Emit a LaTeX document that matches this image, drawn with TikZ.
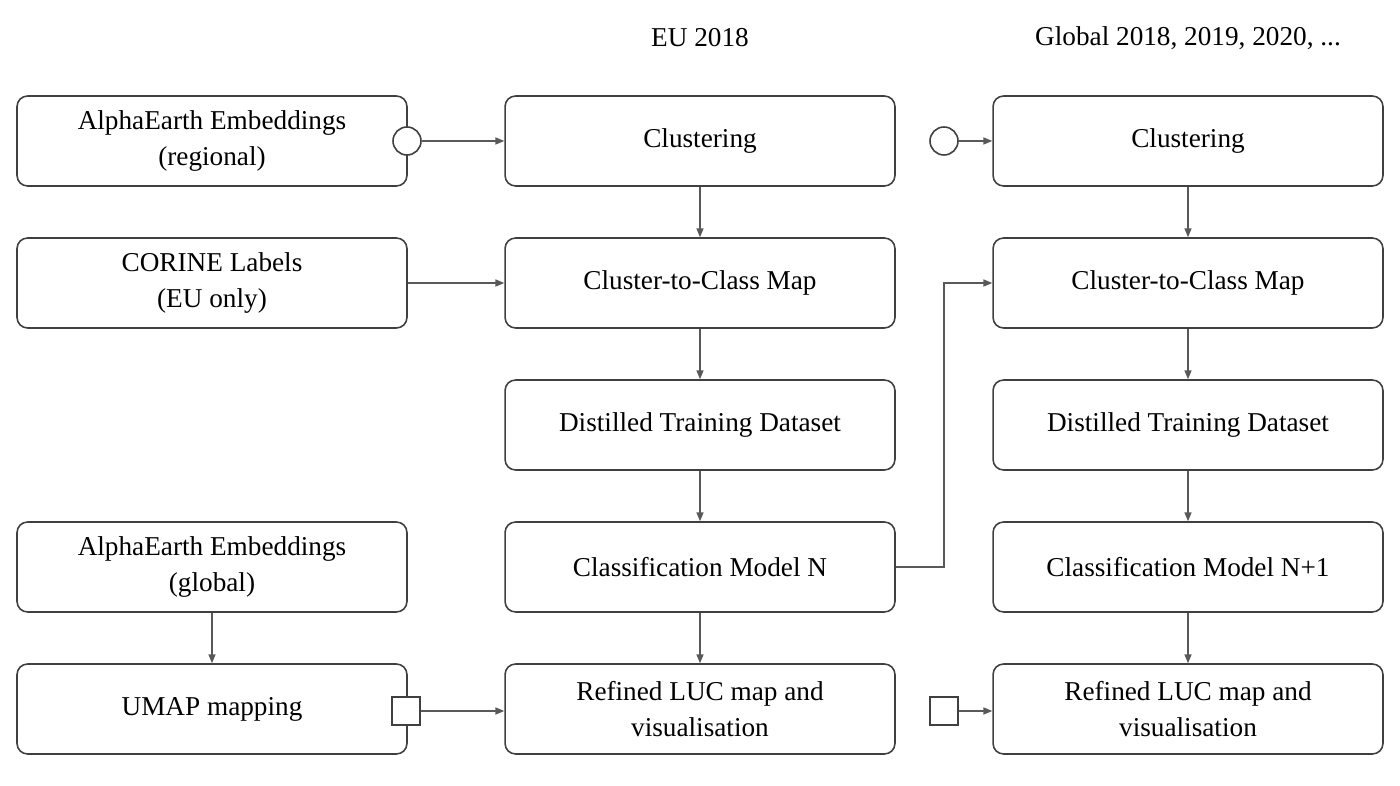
\documentclass[tikz,border=0pt]{standalone}
\usepackage{fontspec}
\setmainfont{Liberation Serif}
\usetikzlibrary{arrows.meta}
\begin{document}
\begin{tikzpicture}[x=0.02cm,y=-0.02cm,
  box/.style={draw=black!75,line width=0.9pt,rounded corners=6pt,minimum width=7.8cm,minimum height=1.8cm,align=center,font=\fontsize{15.5}{20.5}\selectfont,inner sep=0pt},
  conn/.style={draw=black!65,line width=0.7pt,-{Triangle[length=5pt,width=4pt]}},
  ttl/.style={font=\fontsize{15.5}{20}\selectfont}]
\useasboundingbox (0,0) rectangle (1400,786);
\node[ttl] (t1) at (700,38) {EU 2018};
\node[ttl] (t2) at (1188,38) {Global 2018, 2019, 2020, ...};
% left
\node[box] (ae) at (212,141) {AlphaEarth Embeddings\\(regional)};
\node[box] (co) at (212,283) {CORINE Labels\\(EU only)};
\node[box] (ag) at (212,567) {AlphaEarth Embeddings\\(global)};
\node[box] (um) at (212,709) {UMAP mapping};
% center
\node[box] (c1) at (700,141) {Clustering};
\node[box] (c2) at (700,283) {Cluster-to-Class Map};
\node[box] (c3) at (700,425) {Distilled Training Dataset};
\node[box] (c4) at (700,567) {Classification Model N};
\node[box] (c5) at (700,709) {Refined LUC map and\\visualisation};
% right
\node[box] (r1) at (1188,141) {Clustering};
\node[box] (r2) at (1188,283) {Cluster-to-Class Map};
\node[box] (r3) at (1188,425) {Distilled Training Dataset};
\node[box] (r4) at (1188,567) {Classification Model N+1};
\node[box] (r5) at (1188,709) {Refined LUC map and\\visualisation};
% ports
\node[circle,draw=black!75,fill=white,line width=0.9pt,minimum size=0.56cm,inner sep=0pt] (p1) at (407,141) {};
\node[circle,draw=black!75,fill=white,line width=0.9pt,minimum size=0.56cm,inner sep=0pt] (p2) at (944,141) {};
\node[rectangle,draw=black!75,fill=white,line width=0.9pt,minimum size=0.56cm,inner sep=0pt] (s1) at (406,711) {};
\node[rectangle,draw=black!75,fill=white,line width=0.9pt,minimum size=0.56cm,inner sep=0pt] (s2) at (944,711) {};
\coordinate (k) at (944,567);
\coordinate (k2) at (944,283);
% connectors
\draw[conn] (p1) -- (c1);
\draw[conn] (p2) -- (r1);
\draw[conn] (co) -- (c2);
\draw[conn] (s1) -- (c5.west |- s1);
\draw[conn] (s2) -- (r5.west |- s2);
\draw[conn] (ag) -- (um);
\draw[conn] (c1) -- (c2);
\draw[conn] (c2) -- (c3);
\draw[conn] (c3) -- (c4);
\draw[conn] (c4) -- (c5);
\draw[conn] (r1) -- (r2);
\draw[conn] (r2) -- (r3);
\draw[conn] (r3) -- (r4);
\draw[conn] (r4) -- (r5);
\draw[conn] (c4.east) -- (k) -- (k2) -- (r2.west);
\end{tikzpicture}
\end{document}
